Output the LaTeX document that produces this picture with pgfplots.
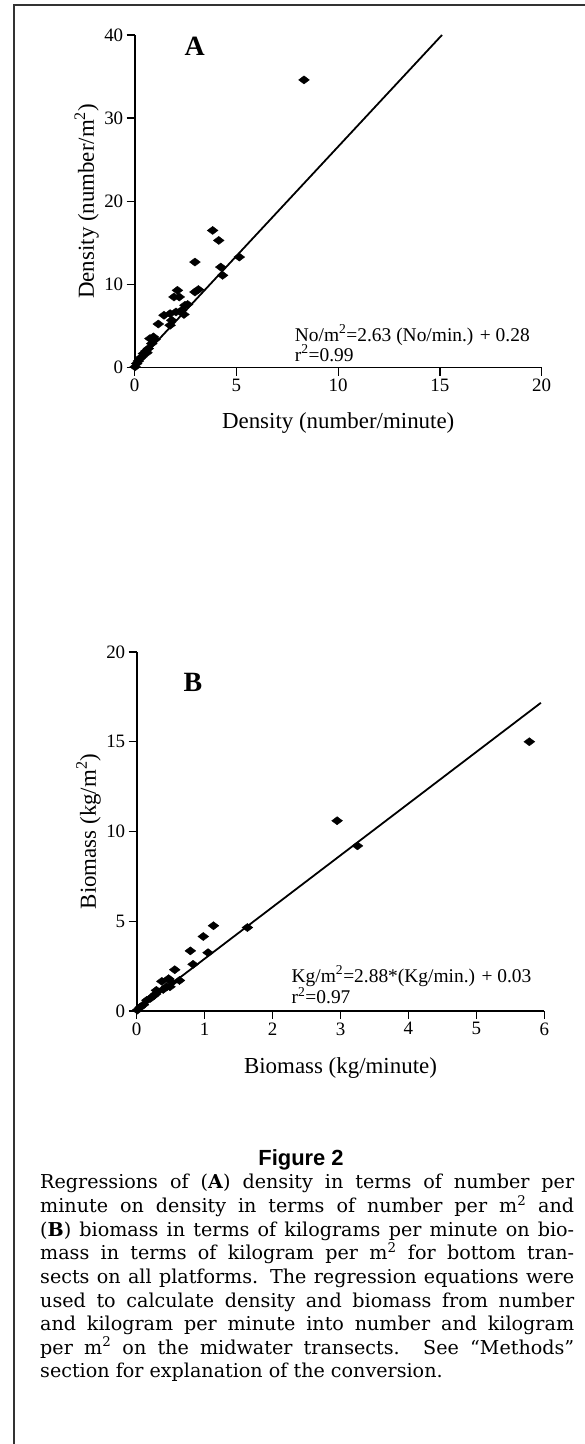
\documentclass[border=0pt]{standalone}
\usepackage{pgfplots}
\pgfplotsset{compat=1.18}
\usepackage{fontspec}
\setmainfont{Liberation Serif}
\newfontfamily\capfont{DejaVu Serif}
\newfontfamily\figfont{Liberation Sans}

\pgfplotsset{
  regax/.style={
    scale only axis,
    anchor=south west,
    axis lines=left,
    axis line style={-, line width=1.6bp, black},
    tick style={line width=1.4bp, black},
    tick align=outside,
    major tick length=8bp,
    enlargelimits=false,
    clip=false,
    /pgf/number format/assume math mode=true,
    ticklabel style={font=\fontsize{19}{19}\selectfont},
    every axis y label/.style={at={(axis description cs:-0.1,0.5)}, rotate=90, anchor=base, font=\fontsize{23}{23}\selectfont},
  },
  pts/.style={only marks, mark=diamond*, mark size=5.4bp, mark options={rotate=90, fill=black, draw=black}},
  fit/.style={no marks, black, line width=1.8bp},
}

\begin{document}
\begin{tikzpicture}
\useasboundingbox (0,0) rectangle (585bp,1444bp);
% frame of the figure box
\draw[line width=2bp, black!80] (14bp,0) -- (14bp,1439bp) -- (585bp,1439bp);

% ---- panel A ----
\begin{axis}[regax,
  at={(134.7bp,1076.3bp)}, width=407bp, height=332.7bp,
  xmin=0, xmax=20, ymin=0, ymax=40,
  xtick={0,5,10,15,20}, ytick={0,10,20,30,40},
  xlabel={Density (number/minute)},
  ylabel={Density (number/m\textsuperscript{2})},
  every axis x label/.style={at={(axis description cs:0.5,-0.182)}, anchor=base, font=\fontsize{23}{23}\selectfont},
]
\addplot[pts] coordinates {
  (8.32,34.6) (3.83,16.5) (4.13,15.3) (5.14,13.3) (2.96,12.7) (4.23,12.1)
  (4.32,11.1) (3.13,9.4) (2.96,9.1) (2.10,9.3) (1.93,8.5) (2.19,8.5)
  (2.47,7.5) (2.31,6.9) (2.42,6.4) (2.03,6.7) (1.74,6.5) (1.44,6.3)
  (1.16,5.25) (1.74,5.1) (1.82,5.7) (0.92,3.7) (0.75,3.5) (0.84,2.9)
  (1.0,3.4) (0.67,2.3) (0.6,1.8) (0.55,2.0) (0.43,1.7) (0.35,1.3)
  (0.26,1.1) (0.18,0.8) (0.1,0.5) (0.02,0.1) (2.6,7.6)
};
\addplot[fit] coordinates {(0,0.28) (15.1,40)};
\node[anchor=base west, font=\fontsize{28}{28}\selectfont\bfseries] at (axis cs:2.28,37.5) {A};
\node[anchor=base west, font=\fontsize{19.5}{19.5}\selectfont] at (axis cs:7.7,3.2) {No/m\textsuperscript{2}=2.63 (No/min.) + 0.28};
\node[anchor=base west, font=\fontsize{19.5}{19.5}\selectfont] at (axis cs:7.7,0.8) {r\textsuperscript{2}=0.99};
\end{axis}

% ---- panel B ----
\begin{axis}[regax,
  at={(136.7bp,433bp)}, width=407.6bp, height=359bp,
  xmin=0, xmax=6, ymin=0, ymax=20,
  xtick={0,1,...,6}, ytick={0,5,10,15,20},
  xlabel={Biomass (kg/minute)},
  ylabel={Biomass (kg/m\textsuperscript{2})},
  every axis x label/.style={at={(axis description cs:0.5,-0.175)}, anchor=base, font=\fontsize{23}{23}\selectfont},
]
\addplot[pts] coordinates {
  (5.78,15.0) (2.95,10.6) (3.25,9.2) (1.63,4.65) (1.13,4.75) (0.98,4.15)
  (0.79,3.35) (1.05,3.25) (0.83,2.6) (0.56,2.3) (0.63,1.7) (0.52,1.6)
  (0.49,1.35) (0.37,1.65) (0.44,1.35) (0.29,1.15) (0.28,0.95) (0.2,0.7)
  (0.15,0.6) (0.1,0.35) (0.05,0.2) (0.01,0.05) (0.39,1.2) (0.47,1.8) (0.25,0.85)
};
\addplot[fit] coordinates {(0,0.03) (5.95,17.17)};
\node[anchor=base west, font=\fontsize{28}{28}\selectfont\bfseries] at (axis cs:0.64,17.8) {B};
\node[anchor=base west, font=\fontsize{19.5}{19.5}\selectfont] at (axis cs:2.23,1.6) {Kg/m\textsuperscript{2}=2.88*(Kg/min.) + 0.03};
\node[anchor=base west, font=\fontsize{19.5}{19.5}\selectfont] at (axis cs:2.23,0.4) {r\textsuperscript{2}=0.97};
\end{axis}

% ---- caption ----
\node[anchor=base, font=\figfont\bfseries\fontsize{22}{22}\selectfont] at (301bp,278bp) {Figure 2};
\node[anchor=base west, inner sep=0pt] at (40bp,255bp) {\begin{minipage}[t]{534bp}
\capfont\fontsize{19.2}{23.7}\selectfont\parindent=0pt\tolerance=10000\pretolerance=-1
Regressions of (\textbf{A}) density in terms of number per\linebreak
minute on density in terms of number per m\textsuperscript{2} and\linebreak
(\textbf{B}) biomass in terms of kilograms per minute on bio-\linebreak
mass in terms of kilogram per m\textsuperscript{2} for bottom tran-\linebreak
sects on all platforms. The regression equations were\linebreak
used to calculate density and biomass from number\linebreak
and kilogram per minute into number and kilogram\linebreak
per m\textsuperscript{2} on the midwater transects. See “Methods”\linebreak
section for explanation of the conversion.
\end{minipage}};
\end{tikzpicture}
\end{document}
